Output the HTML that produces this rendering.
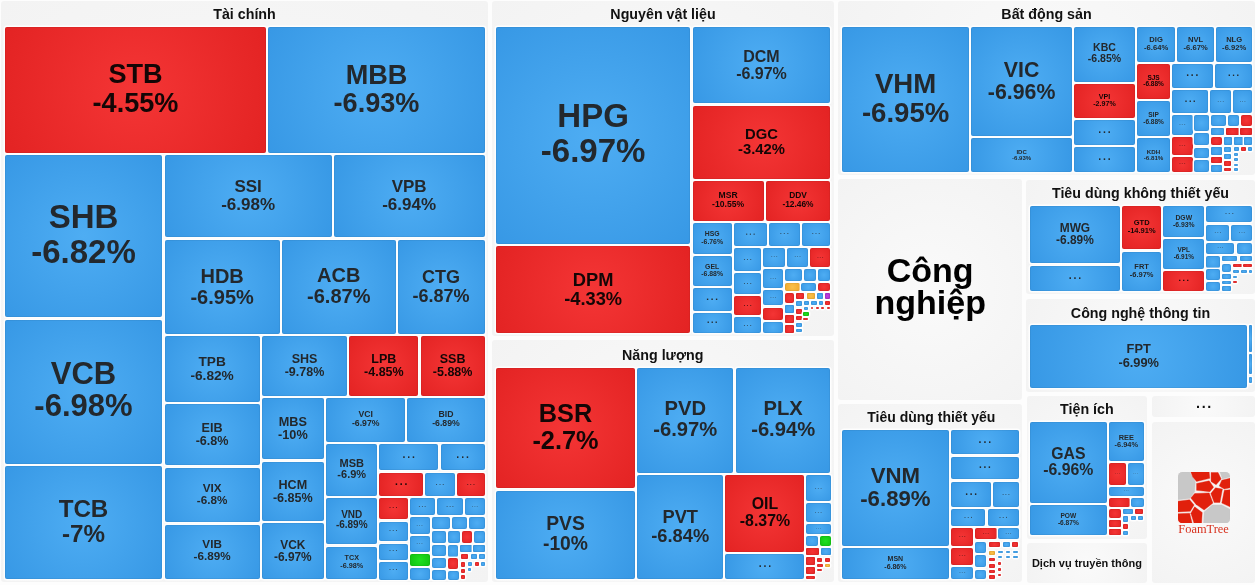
<!DOCTYPE html>
<html><head><meta charset="utf-8"><title>Heatmap</title>
<style>
html,body{margin:0;padding:0;background:#fff;}
body{width:1255px;height:585px;overflow:hidden;position:relative;font-family:"Liberation Sans",Arial,sans-serif;}
#map{position:absolute;left:0;top:0;width:1255px;height:585px;background:#fdfdfd;overflow:hidden;}
.g{position:absolute;background:radial-gradient(circle farthest-corner at 50% 50%,#fafafa,#f3f3f3);border-radius:3px;}
.t{position:absolute;font-weight:bold;color:#111;white-space:nowrap;text-align:center;transform:translate(-50%,-50%);line-height:1;}
.c{position:absolute;border-radius:2px;display:flex;align-items:center;justify-content:center;text-align:center;overflow:hidden;box-shadow:0 0 0 1.5px rgba(255,255,255,.85),inset 0 0 0 1px rgba(0,0,0,.05);}
.b{background:radial-gradient(circle farthest-corner at 50% 50%,#4eadf3,#3798e5);color:#23282d;}
.r{background:radial-gradient(circle farthest-corner at 50% 50%,#f43535,#e32323);color:#140606;}
.gr{background:radial-gradient(circle farthest-corner at 50% 50%,#20e020,#10c010);}
.o{background:radial-gradient(circle farthest-corner at 50% 50%,#fbc04a,#f0a82a);}
.p{background:radial-gradient(circle farthest-corner at 50% 50%,#c040e0,#a828c8);}
.c span{display:block;font-weight:bold;line-height:1.05;white-space:nowrap;position:relative;}
</style></head><body><div id="map">

<div class="g" style="left:1px;top:1px;width:487px;height:581px"></div>
<div class="t" style="left:244.5px;top:13.75px;font-size:14.25px">Tài chính</div>
<div class="g" style="left:492px;top:1px;width:342px;height:335.3px"></div>
<div class="t" style="left:663px;top:13.75px;font-size:14.25px">Nguyên vật liệu</div>
<div class="g" style="left:491.5px;top:340px;width:342.5px;height:242px"></div>
<div class="t" style="left:662.75px;top:354.7px;font-size:14.25px">Năng lượng</div>
<div class="g" style="left:838px;top:1px;width:417px;height:174px"></div>
<div class="t" style="left:1046.5px;top:13.75px;font-size:14.25px">Bất động sản</div>
<div class="g" style="left:838px;top:179.4px;width:184px;height:220.6px"></div>
<div class="g" style="left:1026px;top:179.6px;width:229px;height:114.9px"></div>
<div class="t" style="left:1140.5px;top:192.8px;font-size:14.25px">Tiêu dùng không thiết yếu</div>
<div class="g" style="left:1026px;top:298.8px;width:229px;height:93.6px"></div>
<div class="t" style="left:1140.5px;top:313px;font-size:14.25px">Công nghệ thông tin</div>
<div class="g" style="left:838px;top:403.8px;width:184px;height:178.2px"></div>
<div class="t" style="left:931.3px;top:417.4px;font-size:14px">Tiêu dùng thiết yếu</div>
<div class="g" style="left:1026.5px;top:396px;width:120.8px;height:142.5px"></div>
<div class="t" style="left:1086.9px;top:409px;font-size:14.25px">Tiện ích</div>
<div class="g" style="left:1151.5px;top:396px;width:103.5px;height:21.3px"></div>
<div class="t" style="left:1204.5px;top:402.6px;font-size:14.25px"><span style="letter-spacing:.12em">...</span></div>
<div class="g" style="left:1151.5px;top:421.7px;width:103.5px;height:161.6px"></div>
<div class="g" style="left:1026.5px;top:543.3px;width:120.8px;height:39.4px"></div>
<div class="t" style="left:1086.9px;top:562.5px;font-size:11px">Dịch vụ truyền thông</div>
<div class="c r" style="left:4.65px;top:26.65px;width:261.7px;height:126.2px"><span style="font-size:27.1px;top:-0.89px">STB<br>-4.55%</span></div>
<div class="c b" style="left:268.4px;top:26.65px;width:216.2px;height:126.2px"><span style="font-size:27.1px;top:-0.69px">MBB<br>-6.93%</span></div>
<div class="c b" style="left:4.65px;top:155.15px;width:157.7px;height:162.2px"><span style="font-size:33px;top:-1.31px">SHB<br>-6.82%</span></div>
<div class="c b" style="left:4.65px;top:319.65px;width:157.7px;height:143.9px"><span style="font-size:31px;top:-1.51px">VCB<br>-6.98%</span></div>
<div class="c b" style="left:4.65px;top:466.15px;width:157.7px;height:113px"><span style="font-size:24.2px;top:-1.33px">TCB<br>-7%</span></div>
<div class="c b" style="left:164.65px;top:155.15px;width:166.95px;height:82.2px"><span style="font-size:17px;top:-0.74px">SSI<br>-6.98%</span></div>
<div class="c b" style="left:333.65px;top:155.15px;width:150.95px;height:82.2px"><span style="font-size:17px;top:-0.74px">VPB<br>-6.94%</span></div>
<div class="c b" style="left:164.65px;top:239.65px;width:114.95px;height:93.95px"><span style="font-size:20px;top:-0.1px">HDB<br>-6.95%</span></div>
<div class="c b" style="left:281.65px;top:239.65px;width:114.2px;height:93.95px"><span style="font-size:20px;top:-0.3px">ACB<br>-6.87%</span></div>
<div class="c b" style="left:397.65px;top:239.65px;width:86.95px;height:93.95px"><span style="font-size:18px;top:0.01px">CTG<br>-6.87%</span></div>
<div class="c b" style="left:164.65px;top:336.15px;width:94.95px;height:65.95px"><span style="font-size:13.7px;top:0.05px">TPB<br>-6.82%</span></div>
<div class="c b" style="left:164.65px;top:404.15px;width:94.95px;height:60.8px"><span style="font-size:12.6px;top:0.31px">EIB<br>-6.8%</span></div>
<div class="c b" style="left:164.65px;top:468.15px;width:94.95px;height:53.7px"><span style="font-size:11.7px;top:-1.14px">VIX<br>-6.8%</span></div>
<div class="c b" style="left:164.65px;top:524.65px;width:94.95px;height:54.5px"><span style="font-size:11.7px;top:-1.44px">VIB<br>-6.89%</span></div>
<div class="c b" style="left:261.65px;top:336.15px;width:85.7px;height:59.95px"><span style="font-size:12.5px;top:0.01px">SHS<br>-9.78%</span></div>
<div class="c r" style="left:349.4px;top:336.15px;width:68.95px;height:59.95px"><span style="font-size:12.5px;top:0.01px">LPB<br>-4.85%</span></div>
<div class="c r" style="left:420.65px;top:336.15px;width:63.95px;height:59.95px"><span style="font-size:12.5px;top:0.01px">SSB<br>-5.88%</span></div>
<div class="c b" style="left:261.65px;top:398.4px;width:62.45px;height:60.95px"><span style="font-size:12.7px;top:0.3px">MBS<br>-10%</span></div>
<div class="c b" style="left:261.65px;top:461.65px;width:62.45px;height:59px"><span style="font-size:12.6px;top:0.81px">HCM<br>-6.85%</span></div>
<div class="c b" style="left:261.65px;top:522.95px;width:62.45px;height:56.2px"><span style="font-size:11.9px;top:0.35px">VCK<br>-6.97%</span></div>
<div class="c b" style="left:326.15px;top:398.4px;width:79.2px;height:43.65px"><span style="font-size:8.7px;top:-1.18px">VCI<br>-6.97%</span></div>
<div class="c b" style="left:407.4px;top:398.4px;width:77.2px;height:43.65px"><span style="font-size:8.7px;top:-1.18px">BID<br>-6.89%</span></div>
<div class="c b" style="left:326.15px;top:444.35px;width:51.2px;height:52px"><span style="font-size:11px;top:-1.3px">MSB<br>-6.9%</span></div>
<div class="c b" style="left:326.15px;top:498.35px;width:51.2px;height:46px"><span style="font-size:10px;top:-1.25px">VND<br>-6.89%</span></div>
<div class="c b" style="left:326.15px;top:546.65px;width:51.2px;height:32.5px"><span style="font-size:7.2px;top:-0.9px">TCX<br>-6.98%</span></div>
<div class="c b" style="left:379.35px;top:444.35px;width:58.7px;height:26px"><span style="font-size:10.5px;top:-2.62px;letter-spacing:.18em;padding-left:.18em">...</span></div>
<div class="c b" style="left:440.65px;top:444.35px;width:44px;height:26px"><span style="font-size:10.5px;top:-2.62px;letter-spacing:.18em;padding-left:.18em">...</span></div>
<div class="c r" style="left:379.35px;top:472.95px;width:43.7px;height:23.4px"><span style="font-size:10.3px;top:-2.57px;letter-spacing:.18em;padding-left:.18em">...</span></div>
<div class="c b" style="left:425.35px;top:472.95px;width:29.3px;height:23.4px"><span style="font-size:7.33px;top:-1.83px;letter-spacing:.18em;padding-left:.18em;opacity:.65">...</span></div>
<div class="c r" style="left:456.95px;top:472.95px;width:27.7px;height:23.4px"><span style="font-size:6.93px;top:-1.73px;letter-spacing:.18em;padding-left:.18em;opacity:.65">...</span></div>
<div class="c r" style="left:378.95px;top:498.45px;width:28.7px;height:20.7px"><span style="font-size:7.18px;top:-1.79px;letter-spacing:.18em;padding-left:.18em;opacity:.65">...</span></div>
<div class="c b" style="left:409.65px;top:498.45px;width:25.4px;height:16.9px"><span style="font-size:6.35px;top:-1.59px;letter-spacing:.18em;padding-left:.18em;opacity:.65">...</span></div>
<div class="c b" style="left:437.45px;top:498.45px;width:25.3px;height:16.9px"><span style="font-size:6.33px;top:-1.58px;letter-spacing:.18em;padding-left:.18em;opacity:.65">...</span></div>
<div class="c b" style="left:465.15px;top:498.45px;width:19.7px;height:16.9px"><span style="font-size:4.93px;top:-1.23px;letter-spacing:.18em;padding-left:.18em;opacity:.65">...</span></div>
<div class="c b" style="left:378.95px;top:521.65px;width:28.7px;height:19.5px"><span style="font-size:7.18px;top:-1.79px;letter-spacing:.18em;padding-left:.18em;opacity:.65">...</span></div>
<div class="c b" style="left:378.95px;top:543.65px;width:28.7px;height:16.3px"><span style="font-size:7.17px;top:-1.79px;letter-spacing:.18em;padding-left:.18em;opacity:.65">...</span></div>
<div class="c b" style="left:378.95px;top:562.35px;width:28.7px;height:17.3px"><span style="font-size:7.18px;top:-1.79px;letter-spacing:.18em;padding-left:.18em;opacity:.65">...</span></div>
<div class="c b" style="left:409.65px;top:517.45px;width:19.9px;height:16.4px"><span style="font-size:4.98px;top:-1.24px;letter-spacing:.18em;padding-left:.18em;opacity:.65">...</span></div>
<div class="c b" style="left:409.65px;top:535.85px;width:19.9px;height:16.1px"><span style="font-size:4.98px;top:-1.24px;letter-spacing:.18em;padding-left:.18em;opacity:.65">...</span></div>
<div class="c gr" style="left:409.65px;top:553.85px;width:19.9px;height:12.5px"></div>
<div class="c b" style="left:409.65px;top:568.15px;width:19.9px;height:11.5px"></div>
<div class="c b" style="left:431.65px;top:517.45px;width:18px;height:11.7px"></div>
<div class="c b" style="left:451.65px;top:517.45px;width:15.5px;height:11.7px"></div>
<div class="c b" style="left:469.25px;top:517.45px;width:15.6px;height:11.7px"></div>
<div class="c b" style="left:431.65px;top:531.25px;width:14.5px;height:11.5px"></div>
<div class="c b" style="left:447.65px;top:531.25px;width:12px;height:11.5px"></div>
<div class="c r" style="left:461.65px;top:531.25px;width:10.7px;height:11.5px"></div>
<div class="c b" style="left:474.15px;top:531.25px;width:10.7px;height:11.5px"></div>
<div class="c b" style="left:431.65px;top:544.65px;width:14.5px;height:11px"></div>
<div class="c b" style="left:447.65px;top:544.65px;width:10.7px;height:11.9px"></div>
<div class="c b" style="left:460.45px;top:545.15px;width:11.1px;height:6.8px;border-radius:1px"></div>
<div class="c b" style="left:473.45px;top:545.15px;width:11.4px;height:6.8px;border-radius:1px"></div>
<div class="c b" style="left:431.65px;top:557.65px;width:14.5px;height:10px"></div>
<div class="c r" style="left:447.65px;top:558.45px;width:10.7px;height:10.4px"></div>
<div class="c r" style="left:460.55px;top:554.35px;width:7.6px;height:5.1px;border-radius:1px"></div>
<div class="c b" style="left:470.55px;top:554.35px;width:6.4px;height:5.1px;border-radius:1px"></div>
<div class="c b" style="left:479.45px;top:554.35px;width:5.2px;height:5.1px;border-radius:1px"></div>
<div class="c r" style="left:460.55px;top:561.85px;width:4.9px;height:4.8px;border-radius:1px"></div>
<div class="c b" style="left:467.85px;top:562.05px;width:4.5px;height:3.9px;border-radius:1px"></div>
<div class="c r" style="left:474.55px;top:562.05px;width:4.6px;height:3.9px;border-radius:1px"></div>
<div class="c b" style="left:481.35px;top:562.05px;width:3.3px;height:3.9px;border-radius:1px"></div>
<div class="c r" style="left:460.55px;top:568.85px;width:4.9px;height:4.3px;border-radius:1px"></div>
<div class="c b" style="left:467.85px;top:567.85px;width:3.3px;height:3.3px;border-radius:1px"></div>
<div class="c r" style="left:460.55px;top:575.15px;width:4.9px;height:4.3px;border-radius:1px"></div>
<div class="c b" style="left:431.65px;top:569.65px;width:14.5px;height:10px"></div>
<div class="c b" style="left:447.65px;top:571.15px;width:11.2px;height:8.5px"></div>
<div class="c b" style="left:495.9px;top:26.65px;width:194.45px;height:217.45px"><span style="font-size:33px;top:-1.61px">HPG<br>-6.97%</span></div>
<div class="c r" style="left:495.9px;top:246.4px;width:194.45px;height:86.15px"><span style="font-size:18.3px;top:-0.61px">DPM<br>-4.33%</span></div>
<div class="c b" style="left:692.65px;top:26.65px;width:137.7px;height:76.7px"><span style="font-size:16px;top:0.62px">DCM<br>-6.97%</span></div>
<div class="c r" style="left:692.65px;top:105.95px;width:137.7px;height:73.2px"><span style="font-size:14.8px;top:-0.21px">DGC<br>-3.42%</span></div>
<div class="c r" style="left:692.65px;top:181.45px;width:70.9px;height:39.1px"><span style="font-size:8.6px;top:-0.97px">MSR<br>-10.55%</span></div>
<div class="c r" style="left:765.65px;top:181.45px;width:64.7px;height:39.1px"><span style="font-size:8.4px;top:-0.96px">DDV<br>-12.46%</span></div>
<div class="c b" style="left:692.65px;top:222.95px;width:39px;height:31px"><span style="font-size:6.85px;top:-0.88px">HSG<br>-6.76%</span></div>
<div class="c b" style="left:692.65px;top:255.95px;width:39px;height:29.9px"><span style="font-size:6.85px;top:-0.88px">GEL<br>-6.88%</span></div>
<div class="c b" style="left:692.65px;top:288.05px;width:39px;height:22.6px"><span style="font-size:9.75px;top:-2.44px;letter-spacing:.18em;padding-left:.18em">...</span></div>
<div class="c b" style="left:692.65px;top:312.65px;width:39px;height:19.9px"><span style="font-size:8.76px;top:-2.19px;letter-spacing:.18em;padding-left:.18em">...</span></div>
<div class="c b" style="left:733.65px;top:222.95px;width:33.5px;height:22.6px"><span style="font-size:8.38px;top:-2.09px;letter-spacing:.18em;padding-left:.18em;opacity:.65">...</span></div>
<div class="c b" style="left:769.15px;top:222.95px;width:30.5px;height:22.6px"><span style="font-size:7.62px;top:-1.91px;letter-spacing:.18em;padding-left:.18em;opacity:.65">...</span></div>
<div class="c b" style="left:801.85px;top:222.95px;width:28.5px;height:22.6px"><span style="font-size:7.12px;top:-1.78px;letter-spacing:.18em;padding-left:.18em;opacity:.65">...</span></div>
<div class="c b" style="left:733.65px;top:248.05px;width:27.8px;height:22.6px"><span style="font-size:6.95px;top:-1.74px;letter-spacing:.18em;padding-left:.18em;opacity:.65">...</span></div>
<div class="c b" style="left:733.65px;top:272.65px;width:27.8px;height:21.5px"><span style="font-size:6.95px;top:-1.74px;letter-spacing:.18em;padding-left:.18em;opacity:.65">...</span></div>
<div class="c r" style="left:733.65px;top:296.45px;width:27.8px;height:18.6px"><span style="font-size:6.95px;top:-1.74px;letter-spacing:.18em;padding-left:.18em;opacity:.65">...</span></div>
<div class="c b" style="left:733.65px;top:317.25px;width:27.8px;height:15.3px"><span style="font-size:6.73px;top:-1.68px;letter-spacing:.18em;padding-left:.18em;opacity:.65">...</span></div>
<div class="c b" style="left:763.45px;top:248.05px;width:21.6px;height:19px"><span style="font-size:5.4px;top:-1.35px;letter-spacing:.18em;padding-left:.18em;opacity:.65">...</span></div>
<div class="c b" style="left:786.85px;top:248.05px;width:21.5px;height:19px"><span style="font-size:5.38px;top:-1.34px;letter-spacing:.18em;padding-left:.18em;opacity:.65">...</span></div>
<div class="c r" style="left:810.25px;top:248.05px;width:20.1px;height:19px"><span style="font-size:5.03px;top:-1.26px;letter-spacing:.18em;padding-left:.18em;opacity:.65">...</span></div>
<div class="c b" style="left:763.45px;top:269.35px;width:19.5px;height:19px"><span style="font-size:4.88px;top:-1.22px;letter-spacing:.18em;padding-left:.18em;opacity:.65">...</span></div>
<div class="c b" style="left:763.45px;top:290.35px;width:19.5px;height:15.1px"><span style="font-size:4.88px;top:-1.22px;letter-spacing:.18em;padding-left:.18em;opacity:.65">...</span></div>
<div class="c r" style="left:763.45px;top:307.85px;width:19.5px;height:11.8px"></div>
<div class="c b" style="left:763.45px;top:322.05px;width:19.5px;height:10.5px"></div>
<div class="c b" style="left:785.15px;top:269.35px;width:17px;height:11.3px"></div>
<div class="c b" style="left:804.15px;top:269.35px;width:12.2px;height:11.3px"></div>
<div class="c b" style="left:818.15px;top:269.35px;width:12.2px;height:11.3px"></div>
<div class="c o" style="left:785.15px;top:282.85px;width:14.5px;height:8px"></div>
<div class="c b" style="left:801.45px;top:282.85px;width:14.3px;height:8px"></div>
<div class="c r" style="left:817.65px;top:282.85px;width:12.7px;height:8px"></div>
<div class="c r" style="left:785.15px;top:292.85px;width:9.1px;height:10.1px"></div>
<div class="c r" style="left:796.45px;top:293.05px;width:8px;height:5.5px;border-radius:1px"></div>
<div class="c o" style="left:806.85px;top:293.05px;width:8px;height:5.5px;border-radius:1px"></div>
<div class="c b" style="left:816.85px;top:293.05px;width:6px;height:5.5px;border-radius:1px"></div>
<div class="c p" style="left:825.05px;top:293.05px;width:5.1px;height:5.5px;border-radius:1px"></div>
<div class="c b" style="left:785.15px;top:305.35px;width:9.1px;height:7.6px;border-radius:1px"></div>
<div class="c r" style="left:785.15px;top:315.45px;width:9.1px;height:7.3px;border-radius:1px"></div>
<div class="c r" style="left:785.15px;top:325.25px;width:9.1px;height:7.3px;border-radius:1px"></div>
<div class="c b" style="left:796.45px;top:301.05px;width:5.1px;height:5.3px;border-radius:1px"></div>
<div class="c r" style="left:796.45px;top:308.75px;width:5.1px;height:4.9px;border-radius:1px"></div>
<div class="c r" style="left:796.45px;top:316.05px;width:5.1px;height:4.1px;border-radius:1px"></div>
<div class="c b" style="left:796.45px;top:322.85px;width:5.1px;height:3.9px;border-radius:1px"></div>
<div class="c b" style="left:796.45px;top:328.55px;width:5.1px;height:3.8px;border-radius:1px"></div>
<div class="c b" style="left:803.75px;top:301.05px;width:5.5px;height:3.8px;border-radius:1px"></div>
<div class="c b" style="left:811.45px;top:301.05px;width:5.1px;height:3.8px;border-radius:1px"></div>
<div class="c b" style="left:818.75px;top:301.05px;width:4.7px;height:3.8px;border-radius:1px"></div>
<div class="c r" style="left:825.25px;top:301.05px;width:4.9px;height:3.8px;border-radius:1px"></div>
<div class="c b" style="left:803.75px;top:306.65px;width:3.9px;height:3px;border-radius:1px"></div>
<div class="c r" style="left:810.65px;top:306.85px;width:2.8px;height:2.3px;border-radius:1px"></div>
<div class="c r" style="left:815.85px;top:306.85px;width:2.8px;height:2.3px;border-radius:1px"></div>
<div class="c r" style="left:821.45px;top:306.85px;width:2.7px;height:2.3px;border-radius:1px"></div>
<div class="c r" style="left:826.65px;top:306.85px;width:3px;height:2.3px;border-radius:1px"></div>
<div class="c gr" style="left:803.35px;top:312.45px;width:5.3px;height:3.5px;border-radius:1px"></div>
<div class="c r" style="left:803.35px;top:317.65px;width:4.8px;height:2.5px;border-radius:1px"></div>
<div class="c r" style="left:496.15px;top:367.55px;width:138.7px;height:120.3px"><span style="font-size:25.3px;top:-1.19px">BSR<br>-2.7%</span></div>
<div class="c b" style="left:496.15px;top:490.65px;width:138.7px;height:88.4px"><span style="font-size:19.3px;top:-1.06px">PVS<br>-10%</span></div>
<div class="c b" style="left:637.15px;top:367.55px;width:96.2px;height:105.4px"><span style="font-size:20.2px;top:-0.91px">PVD<br>-6.97%</span></div>
<div class="c b" style="left:736.15px;top:367.55px;width:94px;height:105.4px"><span style="font-size:20.2px;top:-0.91px">PLX<br>-6.94%</span></div>
<div class="c b" style="left:637.15px;top:475.45px;width:86.2px;height:103.6px"><span style="font-size:18.3px;top:-1.51px">PVT<br>-6.84%</span></div>
<div class="c r" style="left:725.45px;top:475.45px;width:79px;height:76.1px"><span style="font-size:15.9px;top:-0.87px">OIL<br>-8.37%</span></div>
<div class="c b" style="left:725.45px;top:553.55px;width:79px;height:25.6px"><span style="font-size:10.5px;top:-2.62px;letter-spacing:.18em;padding-left:.18em">...</span></div>
<div class="c b" style="left:806.25px;top:475.45px;width:24.3px;height:25.8px"><span style="font-size:6.08px;top:-1.52px;letter-spacing:.18em;padding-left:.18em;opacity:.65">...</span></div>
<div class="c b" style="left:806.25px;top:503.25px;width:24.3px;height:18.9px"><span style="font-size:6.08px;top:-1.52px;letter-spacing:.18em;padding-left:.18em;opacity:.65">...</span></div>
<div class="c b" style="left:806.25px;top:524.15px;width:24.3px;height:9.9px"><span style="font-size:4.36px;top:-1.09px;letter-spacing:.18em;padding-left:.18em;opacity:.65">...</span></div>
<div class="c b" style="left:806.25px;top:535.85px;width:11.9px;height:10.5px"></div>
<div class="c gr" style="left:819.75px;top:535.85px;width:10.8px;height:10.5px"></div>
<div class="c r" style="left:806.25px;top:547.65px;width:12.6px;height:7.3px;border-radius:1px"></div>
<div class="c b" style="left:820.65px;top:547.65px;width:9.9px;height:7.3px;border-radius:1px"></div>
<div class="c r" style="left:806.25px;top:556.95px;width:8.5px;height:7.9px;border-radius:1px"></div>
<div class="c r" style="left:816.65px;top:557.55px;width:5.5px;height:4.4px;border-radius:1px"></div>
<div class="c r" style="left:824.85px;top:557.55px;width:5.5px;height:4.4px;border-radius:1px"></div>
<div class="c r" style="left:816.65px;top:564.35px;width:6.1px;height:2.4px;border-radius:1px"></div>
<div class="c o" style="left:825.45px;top:564.35px;width:4.7px;height:2.4px;border-radius:1px"></div>
<div class="c r" style="left:806.25px;top:566.65px;width:8.5px;height:7.4px;border-radius:1px"></div>
<div class="c r" style="left:816.65px;top:569.05px;width:5px;height:2.4px;border-radius:1px"></div>
<div class="c r" style="left:806.45px;top:576.25px;width:8.1px;height:2.7px;border-radius:1px"></div>
<div class="c b" style="left:841.85px;top:26.65px;width:127.5px;height:145px"><span style="font-size:27.6px;top:-0.32px">VHM<br>-6.95%</span></div>
<div class="c b" style="left:971.35px;top:26.65px;width:100.5px;height:109.3px"><span style="font-size:21.3px;top:-0.42px">VIC<br>-6.96%</span></div>
<div class="c b" style="left:971.35px;top:138.25px;width:100.5px;height:33.3px"><span style="font-size:6px;top:0.17px">IDC<br>-6.93%</span></div>
<div class="c b" style="left:1073.85px;top:26.65px;width:61.3px;height:55px"><span style="font-size:10.5px;top:-1.08px">KBC<br>-6.85%</span></div>
<div class="c r" style="left:1073.85px;top:83.65px;width:61.3px;height:33.9px"><span style="font-size:7.1px;top:0.61px">VPI<br>-2.97%</span></div>
<div class="c b" style="left:1073.85px;top:119.55px;width:61.3px;height:25.8px"><span style="font-size:10.5px;top:-2.62px;letter-spacing:.18em;padding-left:.18em">...</span></div>
<div class="c b" style="left:1073.85px;top:147.25px;width:61.3px;height:24.3px"><span style="font-size:10.5px;top:-2.62px;letter-spacing:.18em;padding-left:.18em">...</span></div>
<div class="c b" style="left:1136.95px;top:26.65px;width:38.4px;height:35px"><span style="font-size:7.6px;top:-0.42px">DIG<br>-6.64%</span></div>
<div class="c b" style="left:1177.45px;top:26.65px;width:36.4px;height:35px"><span style="font-size:7.6px;top:-0.42px">NVL<br>-6.67%</span></div>
<div class="c b" style="left:1216.15px;top:26.65px;width:36px;height:35px"><span style="font-size:7.6px;top:-0.42px">NLG<br>-6.92%</span></div>
<div class="c r" style="left:1136.95px;top:63.65px;width:33.2px;height:35.1px"><span style="font-size:6.5px;top:0.14px">SJS<br>-6.88%</span></div>
<div class="c b" style="left:1136.95px;top:100.95px;width:33.2px;height:34.8px"><span style="font-size:6.5px;top:0.64px">SIP<br>-6.88%</span></div>
<div class="c b" style="left:1136.95px;top:137.75px;width:33.2px;height:33.8px"><span style="font-size:6.2px;top:0.46px">KDH<br>-6.81%</span></div>
<div class="c b" style="left:1171.95px;top:63.65px;width:40.7px;height:24.7px"><span style="font-size:10.17px;top:-2.54px;letter-spacing:.18em;padding-left:.18em">...</span></div>
<div class="c b" style="left:1214.95px;top:63.65px;width:37.2px;height:24.7px"><span style="font-size:9.3px;top:-2.32px;letter-spacing:.18em;padding-left:.18em">...</span></div>
<div class="c b" style="left:1172.05px;top:90.35px;width:36.3px;height:22.9px"><span style="font-size:9.07px;top:-2.27px;letter-spacing:.18em;padding-left:.18em">...</span></div>
<div class="c b" style="left:1210.15px;top:90.35px;width:21.2px;height:22.9px"><span style="font-size:5.3px;top:-1.32px;letter-spacing:.18em;padding-left:.18em;opacity:.65">...</span></div>
<div class="c b" style="left:1233.25px;top:90.35px;width:19.1px;height:22.9px"><span style="font-size:4.77px;top:-1.19px;letter-spacing:.18em;padding-left:.18em;opacity:.65">...</span></div>
<div class="c b" style="left:1172.05px;top:115.05px;width:20.6px;height:20.3px"><span style="font-size:5.15px;top:-1.29px;letter-spacing:.18em;padding-left:.18em;opacity:.65">...</span></div>
<div class="c b" style="left:1194.45px;top:115.05px;width:14.7px;height:16.1px"></div>
<div class="c b" style="left:1211.05px;top:115.05px;width:15.3px;height:10.6px"></div>
<div class="c b" style="left:1227.85px;top:115.05px;width:11.5px;height:10.6px"></div>
<div class="c r" style="left:1241.35px;top:115.05px;width:11px;height:10.6px"></div>
<div class="c b" style="left:1211.05px;top:127.55px;width:13.2px;height:7.5px;border-radius:1px"></div>
<div class="c r" style="left:1225.65px;top:127.55px;width:12.9px;height:7.5px;border-radius:1px"></div>
<div class="c r" style="left:1240.15px;top:127.55px;width:12.2px;height:7.5px;border-radius:1px"></div>
<div class="c r" style="left:1172.05px;top:137.45px;width:20.6px;height:17.6px"><span style="font-size:5.15px;top:-1.29px;letter-spacing:.18em;padding-left:.18em;opacity:.65">...</span></div>
<div class="c r" style="left:1172.05px;top:157.05px;width:20.6px;height:14.5px"><span style="font-size:5.15px;top:-1.29px;letter-spacing:.18em;padding-left:.18em;opacity:.65">...</span></div>
<div class="c b" style="left:1194.45px;top:132.95px;width:14.7px;height:12.4px"></div>
<div class="c b" style="left:1194.45px;top:147.55px;width:14.7px;height:10.6px"></div>
<div class="c b" style="left:1194.45px;top:160.35px;width:14.7px;height:11.2px"></div>
<div class="c r" style="left:1211.05px;top:137.25px;width:11px;height:8.1px"></div>
<div class="c b" style="left:1211.05px;top:146.85px;width:11px;height:7.9px;border-radius:1px"></div>
<div class="c r" style="left:1211.25px;top:156.75px;width:10.6px;height:6.3px;border-radius:1px"></div>
<div class="c b" style="left:1211.05px;top:164.65px;width:11px;height:6.9px;border-radius:1px"></div>
<div class="c b" style="left:1223.55px;top:137.25px;width:8.7px;height:7.7px;border-radius:1px"></div>
<div class="c b" style="left:1223.75px;top:146.85px;width:7.4px;height:5.1px;border-radius:1px"></div>
<div class="c b" style="left:1223.75px;top:153.65px;width:7.4px;height:5.5px;border-radius:1px"></div>
<div class="c r" style="left:1223.75px;top:161.35px;width:7.4px;height:4.3px;border-radius:1px"></div>
<div class="c r" style="left:1223.75px;top:167.55px;width:7.4px;height:3.8px;border-radius:1px"></div>
<div class="c b" style="left:1233.75px;top:137.25px;width:8.8px;height:7.7px;border-radius:1px"></div>
<div class="c b" style="left:1233.95px;top:147.05px;width:5px;height:4.1px;border-radius:1px"></div>
<div class="c b" style="left:1233.95px;top:153.35px;width:4.2px;height:2.6px;border-radius:1px"></div>
<div class="c b" style="left:1233.95px;top:158.45px;width:4.2px;height:2.7px;border-radius:1px"></div>
<div class="c b" style="left:1233.95px;top:163.65px;width:4.2px;height:2.7px;border-radius:1px"></div>
<div class="c b" style="left:1233.95px;top:168.35px;width:4.2px;height:3px;border-radius:1px"></div>
<div class="c b" style="left:1244.05px;top:137.25px;width:8.3px;height:7.7px;border-radius:1px"></div>
<div class="c r" style="left:1240.85px;top:146.85px;width:5.3px;height:4.3px;border-radius:1px"></div>
<div class="c b" style="left:1247.85px;top:146.85px;width:4.3px;height:4.3px;border-radius:1px"></div>
<div class="c b" style="left:1029.95px;top:205.55px;width:90px;height:57.7px"><span style="font-size:11.9px;top:-0.35px">MWG<br>-6.89%</span></div>
<div class="c b" style="left:1029.95px;top:265.65px;width:90px;height:25.3px"><span style="font-size:10.5px;top:-2.62px;letter-spacing:.18em;padding-left:.18em">...</span></div>
<div class="c r" style="left:1121.85px;top:205.55px;width:39.6px;height:43.8px"><span style="font-size:7.5px;top:-0.21px">GTD<br>-14.91%</span></div>
<div class="c b" style="left:1121.85px;top:251.55px;width:39.6px;height:39.4px"><span style="font-size:7.5px;top:0.09px">FRT<br>-6.97%</span></div>
<div class="c b" style="left:1163.45px;top:205.55px;width:40.7px;height:31.4px"><span style="font-size:6.8px;top:-0.37px">DGW<br>-6.93%</span></div>
<div class="c b" style="left:1163.45px;top:239.45px;width:40.7px;height:29.2px"><span style="font-size:6.4px;top:0.15px">VPL<br>-6.91%</span></div>
<div class="c r" style="left:1163.45px;top:270.75px;width:40.7px;height:20.2px"><span style="font-size:8.89px;top:-2.22px;letter-spacing:.18em;padding-left:.18em">...</span></div>
<div class="c b" style="left:1206.35px;top:205.55px;width:46px;height:16.7px"><span style="font-size:7.35px;top:-1.84px;letter-spacing:.18em;padding-left:.18em;opacity:.65">...</span></div>
<div class="c b" style="left:1206.35px;top:224.65px;width:23px;height:16.6px"><span style="font-size:5.75px;top:-1.44px;letter-spacing:.18em;padding-left:.18em;opacity:.65">...</span></div>
<div class="c b" style="left:1231.45px;top:224.65px;width:20.9px;height:16.6px"><span style="font-size:5.22px;top:-1.31px;letter-spacing:.18em;padding-left:.18em;opacity:.65">...</span></div>
<div class="c b" style="left:1206.35px;top:243.45px;width:28px;height:10.5px"><span style="font-size:4.62px;top:-1.15px;letter-spacing:.18em;padding-left:.18em;opacity:.65">...</span></div>
<div class="c b" style="left:1236.65px;top:243.45px;width:15.7px;height:10.5px"></div>
<div class="c b" style="left:1206.35px;top:255.85px;width:13.6px;height:11.7px"></div>
<div class="c b" style="left:1222.25px;top:256.05px;width:15.2px;height:5.4px;border-radius:1px"></div>
<div class="c b" style="left:1239.85px;top:256.05px;width:12.3px;height:5.4px;border-radius:1px"></div>
<div class="c b" style="left:1206.35px;top:269.45px;width:13.6px;height:10.6px"></div>
<div class="c b" style="left:1206.35px;top:281.65px;width:13.6px;height:9.3px"></div>
<div class="c b" style="left:1222.05px;top:263.55px;width:8.8px;height:8.4px"></div>
<div class="c b" style="left:1222.25px;top:274.05px;width:8.4px;height:4.7px;border-radius:1px"></div>
<div class="c b" style="left:1222.25px;top:280.65px;width:8.4px;height:3.8px;border-radius:1px"></div>
<div class="c b" style="left:1222.25px;top:286.25px;width:8.4px;height:4.5px;border-radius:1px"></div>
<div class="c r" style="left:1232.75px;top:263.75px;width:8.8px;height:3.6px;border-radius:1px"></div>
<div class="c r" style="left:1243.45px;top:263.75px;width:8.7px;height:3.6px;border-radius:1px"></div>
<div class="c b" style="left:1232.75px;top:269.65px;width:6.2px;height:3.8px;border-radius:1px"></div>
<div class="c b" style="left:1241.25px;top:269.65px;width:5.4px;height:3.8px;border-radius:1px"></div>
<div class="c b" style="left:1248.55px;top:269.65px;width:3.6px;height:3.8px;border-radius:1px"></div>
<div class="c b" style="left:1232.75px;top:275.75px;width:4px;height:2.4px;border-radius:1px"></div>
<div class="c r" style="left:1232.75px;top:280.65px;width:4px;height:2.5px;border-radius:1px"></div>
<div class="c b" style="left:1029.95px;top:325.05px;width:217.5px;height:62.7px"><span style="font-size:12.8px;top:-0.7px">FPT<br>-6.99%</span></div>
<div class="c b" style="left:1248.95px;top:325.25px;width:3.2px;height:26.9px;border-radius:1px"></div>
<div class="c b" style="left:1248.95px;top:354.35px;width:3.2px;height:20px;border-radius:1px"></div>
<div class="c b" style="left:1248.95px;top:376.75px;width:3.2px;height:6.4px;border-radius:1px"></div>
<div class="c b" style="left:841.65px;top:430.25px;width:107.5px;height:115.5px"><span style="font-size:22.2px;top:-0.72px">VNM<br>-6.89%</span></div>
<div class="c b" style="left:841.65px;top:548.15px;width:107.5px;height:30.8px"><span style="font-size:7px;top:-0.89px">MSN<br>-6.86%</span></div>
<div class="c b" style="left:951.15px;top:430.25px;width:67.5px;height:23.9px"><span style="font-size:10.5px;top:-2.62px;letter-spacing:.18em;padding-left:.18em">...</span></div>
<div class="c b" style="left:951.15px;top:456.55px;width:67.5px;height:22.8px"><span style="font-size:10.03px;top:-2.51px;letter-spacing:.18em;padding-left:.18em">...</span></div>
<div class="c b" style="left:951.15px;top:482.45px;width:40px;height:24.7px"><span style="font-size:10px;top:-2.5px;letter-spacing:.18em;padding-left:.18em">...</span></div>
<div class="c b" style="left:993.35px;top:482.45px;width:25.3px;height:24.7px"><span style="font-size:6.32px;top:-1.58px;letter-spacing:.18em;padding-left:.18em;opacity:.65">...</span></div>
<div class="c b" style="left:951.15px;top:509.35px;width:34.3px;height:16.5px"><span style="font-size:7.26px;top:-1.82px;letter-spacing:.18em;padding-left:.18em;opacity:.65">...</span></div>
<div class="c b" style="left:987.95px;top:509.35px;width:30.7px;height:16.5px"><span style="font-size:7.26px;top:-1.82px;letter-spacing:.18em;padding-left:.18em;opacity:.65">...</span></div>
<div class="c r" style="left:951.15px;top:528.25px;width:22.3px;height:17.5px"><span style="font-size:5.58px;top:-1.39px;letter-spacing:.18em;padding-left:.18em;opacity:.65">...</span></div>
<div class="c r" style="left:975.25px;top:528.25px;width:21.3px;height:11.2px"><span style="font-size:4.93px;top:-1.23px;letter-spacing:.18em;padding-left:.18em;opacity:.65">...</span></div>
<div class="c b" style="left:998.35px;top:528.25px;width:20.3px;height:11.2px"><span style="font-size:4.93px;top:-1.23px;letter-spacing:.18em;padding-left:.18em;opacity:.65">...</span></div>
<div class="c r" style="left:951.15px;top:548.15px;width:22.3px;height:16.5px"><span style="font-size:5.58px;top:-1.39px;letter-spacing:.18em;padding-left:.18em;opacity:.65">...</span></div>
<div class="c b" style="left:951.15px;top:567.15px;width:22.3px;height:11.8px"><span style="font-size:5.19px;top:-1.3px;letter-spacing:.18em;padding-left:.18em;opacity:.65">...</span></div>
<div class="c b" style="left:975.25px;top:541.85px;width:10.9px;height:11.2px"></div>
<div class="c b" style="left:975.25px;top:555.45px;width:10.9px;height:11.8px"></div>
<div class="c b" style="left:975.25px;top:569.65px;width:10.9px;height:9.3px"></div>
<div class="c r" style="left:988.75px;top:542.05px;width:11.7px;height:5.1px;border-radius:1px"></div>
<div class="c b" style="left:1002.95px;top:542.05px;width:6.7px;height:5.1px;border-radius:1px"></div>
<div class="c r" style="left:1011.85px;top:542.05px;width:6.6px;height:5.1px;border-radius:1px"></div>
<div class="c o" style="left:988.75px;top:550.65px;width:6px;height:4.4px;border-radius:1px"></div>
<div class="c b" style="left:997.65px;top:550.65px;width:5px;height:2.5px;border-radius:1px"></div>
<div class="c b" style="left:1005.55px;top:550.65px;width:4.6px;height:2.5px;border-radius:1px"></div>
<div class="c b" style="left:1012.85px;top:550.65px;width:5.3px;height:2.5px;border-radius:1px"></div>
<div class="c r" style="left:988.75px;top:557.85px;width:6px;height:3.5px;border-radius:1px"></div>
<div class="c b" style="left:997.65px;top:555.65px;width:4.5px;height:2.5px;border-radius:1px"></div>
<div class="c b" style="left:1005.55px;top:555.65px;width:4.6px;height:2.5px;border-radius:1px"></div>
<div class="c b" style="left:1012.85px;top:555.65px;width:5.3px;height:2.5px;border-radius:1px"></div>
<div class="c r" style="left:988.75px;top:564.15px;width:6px;height:3.5px;border-radius:1px"></div>
<div class="c r" style="left:997.65px;top:561.85px;width:3.5px;height:2.8px;border-radius:1px"></div>
<div class="c r" style="left:988.75px;top:569.85px;width:6px;height:3.3px;border-radius:1px"></div>
<div class="c r" style="left:997.65px;top:567.85px;width:3.5px;height:2.8px;border-radius:1px"></div>
<div class="c r" style="left:988.75px;top:575.25px;width:6px;height:3.5px;border-radius:1px"></div>
<div class="c r" style="left:997.65px;top:573.85px;width:3.5px;height:2.3px;border-radius:1px"></div>
<div class="c b" style="left:1029.65px;top:421.95px;width:77.4px;height:81.1px"><span style="font-size:15.8px;top:-0.37px">GAS<br>-6.96%</span></div>
<div class="c b" style="left:1029.65px;top:505.35px;width:77.4px;height:30px"><span style="font-size:6.6px;top:-0.36px">POW<br>-6.87%</span></div>
<div class="c b" style="left:1108.95px;top:421.95px;width:34.7px;height:39.1px"><span style="font-size:7.4px;top:-0.21px">REE<br>-6.94%</span></div>
<div class="c r" style="left:1108.95px;top:462.95px;width:17.1px;height:22.4px"><span style="font-size:4.27px;top:-1.07px;letter-spacing:.18em;padding-left:.18em;opacity:.65">...</span></div>
<div class="c b" style="left:1127.65px;top:462.95px;width:16px;height:22.4px"><span style="font-size:4px;top:-1px;letter-spacing:.18em;padding-left:.18em;opacity:.65">...</span></div>
<div class="c b" style="left:1108.95px;top:486.95px;width:34.7px;height:9.1px"><span style="font-size:4px;top:-1px;letter-spacing:.18em;padding-left:.18em;opacity:.65">...</span></div>
<div class="c r" style="left:1108.95px;top:497.65px;width:20.7px;height:9.4px"></div>
<div class="c b" style="left:1131.35px;top:497.65px;width:12.3px;height:9.4px"></div>
<div class="c r" style="left:1108.95px;top:508.95px;width:12.1px;height:9.1px"></div>
<div class="c b" style="left:1123.15px;top:509.15px;width:9.7px;height:5px;border-radius:1px"></div>
<div class="c r" style="left:1135.15px;top:509.15px;width:8.3px;height:5px;border-radius:1px"></div>
<div class="c r" style="left:1108.95px;top:519.65px;width:12.1px;height:7.4px;border-radius:1px"></div>
<div class="c b" style="left:1123.15px;top:515.85px;width:5.3px;height:6px;border-radius:1px"></div>
<div class="c b" style="left:1130.85px;top:515.85px;width:5.3px;height:4.3px;border-radius:1px"></div>
<div class="c b" style="left:1138.15px;top:515.85px;width:5px;height:4.3px;border-radius:1px"></div>
<div class="c r" style="left:1123.15px;top:524.15px;width:5.3px;height:5px;border-radius:1px"></div>
<div class="c r" style="left:1109.15px;top:529.15px;width:11.7px;height:6px;border-radius:1px"></div>
<div class="c b" style="left:1123.15px;top:530.85px;width:5.3px;height:4.3px;border-radius:1px"></div>
<div class="t" style="left:930.2px;top:286.5px;font-size:34px;line-height:32.8px;color:#000">Công<br>nghiệp</div>
<svg style="position:absolute;left:1178px;top:471.7px" width="52" height="51.3" viewBox="0 0 412 405" preserveAspectRatio="none">
<defs><clipPath id="lc"><rect x="0" y="0" width="412" height="405" rx="34" ry="34"/></clipPath></defs>
<g clip-path="url(#lc)">
<rect x="0" y="0" width="412" height="405" fill="#f7f3f2"/>
<g fill="#c8c8c8" stroke="#c8c8c8" stroke-width="3" stroke-linejoin="round">
<polygon points="0,0 92,0 137,75 132,155 92,210 0,220"/>
<polygon points="207,315 272,260 347,260 412,295 412,405 202,405"/>
<polygon points="332,0 412,0 412,40 352,55"/>
</g>
<g fill="#e1200c" stroke="#e1200c" stroke-width="3" stroke-linejoin="round">
<polygon points="102,0 247,0 252,50 147,75 117,40"/>
<polygon points="262,3 317,3 342,55 302,100 262,75"/>
<polygon points="347,65 412,50 412,125 367,135 327,110"/>
<polygon points="147,90 247,70 282,120 252,155 147,145"/>
<polygon points="297,125 352,135 332,240 287,240 260,170"/>
<polygon points="367,145 412,140 412,275 347,245"/>
<polygon points="132,170 247,165 277,245 207,300 142,255 102,205"/>
<polygon points="0,230 92,220 127,260 97,310 0,315"/>
<polygon points="0,330 92,325 112,405 0,405"/>
<polygon points="132,275 192,320 187,405 127,405 102,325"/>
</g></g></svg>
<div style="position:absolute;left:1178.3px;top:522.6px;width:52px;font-family:'Liberation Serif',serif;font-size:12.4px;line-height:12px;color:#d8321f;letter-spacing:0px;white-space:nowrap">FoamTree</div>

</div></body></html>
